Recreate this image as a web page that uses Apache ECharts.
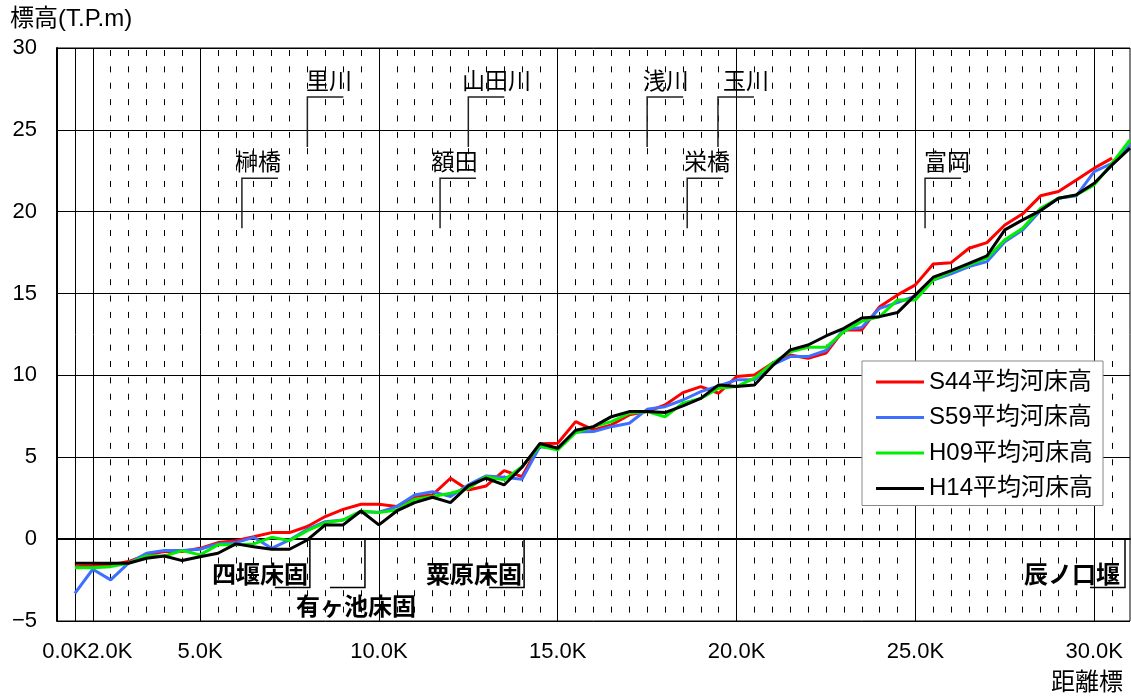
<!DOCTYPE html>
<html>
<head>
<meta charset="utf-8">
<script src="https://cdn.jsdelivr.net/npm/echarts@6/dist/echarts.min.js"></script>
<style>
html, body { margin: 0; padding: 0; background: #fff; }
#chart { width: 1131px; height: 697px; }
</style>
</head>
<body>
<div id="chart"></div>
<script>
const FONT = "'Liberation Sans', 'Noto Sans CJK JP', sans-serif";

// distance markers (first slot is an empty category before 0.0K)
const distances = ['', '0.0K', '2.0K', '2.5K', '3.0K', '3.5K', '4.0K', '4.5K', '5.0K', '5.5K',
    '6.0K', '6.5K', '7.0K', '7.5K', '8.0K', '8.5K', '9.0K', '9.5K', '10.0K', '10.5K',
    '11.0K', '11.5K', '12.0K', '12.5K', '13.0K', '13.5K', '14.0K', '14.5K', '15.0K', '15.5K',
    '16.0K', '16.5K', '17.0K', '17.5K', '18.0K', '18.5K', '19.0K', '19.5K', '20.0K', '20.5K',
    '21.0K', '21.5K', '22.0K', '22.5K', '23.0K', '23.5K', '24.0K', '24.5K', '25.0K', '25.5K',
    '26.0K', '26.5K', '27.0K', '27.5K', '28.0K', '28.5K', '29.0K', '29.5K', '30.0K', '30.5K', '31.0K'];
const tickLabels = ['0.0K', '2.0K', '5.0K', '10.0K', '15.0K', '20.0K', '25.0K', '30.0K'];

const seriesNames = ['S44平均河床高', 'S59平均河床高', 'H09平均河床高', 'H14平均河床高'];
const seriesColors = ['#ff0000', '#3f6fff', '#00ee00', '#000000'];

const s44 = [null, -1.68, -1.64, -1.58, -1.37, -0.96, -0.76, -0.76, -0.56, -0.21, -0.09,
    0.15, 0.40, 0.40, 0.77, 1.38, 1.82, 2.13, 2.13, 1.99, 2.60,
    2.70, 3.72, 3.00, 3.25, 4.19, 3.82, 5.82, 5.86, 7.18, 6.67,
    6.98, 7.59, 7.79, 8.20, 8.95, 9.32, 8.91, 9.93, 10.03, 10.74,
    11.25, 11.05, 11.36, 12.78, 12.78, 14.20, 14.92, 15.53, 16.81, 16.89,
    17.77, 18.11, 19.19, 19.87, 20.97, 21.23, 21.94, 22.66, 23.27, null];
const s59 = [null, -3.31, -1.84, -2.49, -1.47, -0.86, -0.70, -0.70, -0.62, -0.29, -0.21,
    0.11, -0.56, -0.05, 0.60, 1.07, 1.17, 1.68, 1.64, 1.99, 2.70,
    2.90, 2.60, 3.31, 3.86, 3.78, 3.66, 5.65, 5.55, 6.55, 6.57,
    6.87, 7.08, 7.93, 8.09, 8.50, 9.01, 9.36, 9.73, 9.73, 10.64,
    11.15, 11.15, 11.52, 12.80, 12.93, 14.10, 14.45, 14.86, 15.83, 16.20,
    16.65, 16.95, 18.17, 18.89, 20.07, 20.82, 20.97, 22.45, 22.96, 24.08];
const h09 = [null, -1.74, -1.74, -1.68, -1.47, -1.03, -1.03, -0.70, -0.96, -0.35, -0.35,
    -0.29, 0.11, -0.09, 0.52, 1.00, 1.17, 1.72, 1.62, 1.78, 2.43,
    2.60, 2.80, 3.10, 3.82, 3.62, 4.43, 5.69, 5.45, 6.50, 6.87,
    7.18, 7.69, 7.79, 7.48, 8.30, 8.60, 9.22, 9.32, 9.83, 10.74,
    11.45, 11.72, 11.72, 12.68, 13.30, 13.59, 14.61, 14.61, 15.83, 16.34,
    16.75, 17.16, 18.28, 18.99, 20.21, 20.82, 21.03, 21.64, 22.96, 24.39];
const h14 = [null, -1.47, -1.47, -1.47, -1.47, -1.17, -1.03, -1.31, -1.07, -0.86, -0.29,
    -0.46, -0.62, -0.62, -0.05, 0.87, 0.87, 1.72, 0.87, 1.72, 2.23,
    2.56, 2.23, 3.25, 3.72, 3.31, 4.39, 5.84, 5.55, 6.65, 6.87,
    7.48, 7.79, 7.79, 7.73, 8.14, 8.60, 9.42, 9.32, 9.42, 10.58,
    11.56, 11.86, 12.41, 12.88, 13.51, 13.59, 13.84, 14.92, 16.00, 16.40,
    16.85, 17.30, 18.89, 19.50, 20.07, 20.82, 21.03, 21.74, 22.86, 23.88];

// tributaries / bridges (distance in km, label level in T.P.m)
const placeNames = ['榊橋', '里川', '額田', '山田川', '浅川', '栄橋', '玉川', '富岡'];
const placeKm = [6.17, 8.0, 11.71, 12.5, 17.5, 18.62, 19.48, 25.27];
const placeTextKm = [5.98, 7.96, 11.48, 12.32, 17.38, 18.53, 19.62, 25.24];
const placeLevel = [22.05, 27.0, 22.05, 27.0, 27.0, 22.05, 27.0, 22.05];

// bed sills / weirs
const weirNames = ['四堰床固', '有ヶ池床固', '粟原床固', '辰ノ口堰'];
const weirKm = [8.07, 9.61, 14.06, 30.86];
const weirTextKm = [8.02, 7.68, 14.0, 30.72];
const weirTextLevel = [-2.25, -4.2, -2.25, -2.25];
const weirAlign = ['right', 'left', 'right', 'right'];
const weirLevel = -2.95;

// km -> position on the category axis (0.0K sits at 1, 2.0K at 2, then every 0.5K)
function kmToIdx(km){
    return km >= 2 ? 2 + (km - 2) / 0.5 : 1 + km / 2;
}

const chart = echarts.init(document.getElementById('chart'));

const lineSeries = [s44, s59, h09, h14].map((vals, i) => ({
    name: seriesNames[i],
    type: 'line',
    data: vals,
    symbol: 'none',
    showSymbol: false,
    connectNulls: false,
    z: 3 + i,
    lineStyle: {color: seriesColors[i], width: 3},
    itemStyle: {color: seriesColors[i]}
}));

const labelStyle = {fontSize: 22, color: '#000', margin: 20, fontFamily: FONT};

const option = {
    animation: false,
    textStyle: {fontFamily: FONT},
    grid: {left: 57, right: 1, top: 48, bottom: 76, show: true, borderColor: '#000', borderWidth: 1,
        outerBoundsMode: 'none'},
    legend: {
        orient: 'vertical', left: 862, top: 361,
        padding: [9, 10, 5, 14], itemGap: 11.5,
        itemWidth: 48, itemHeight: 3, icon: 'rect',
        backgroundColor: '#fff', borderColor: '#888', borderWidth: 1,
        z: 20,
        textStyle: {fontSize: 24, color: '#000', fontFamily: FONT},
        data: seriesNames
    },
    graphic: [
        {type: 'text', left: 10, top: 7, style: {text: '標高(T.P.m)', fontSize: 24, fontFamily: FONT, fill: '#000'}},
        {type: 'text', right: 8, bottom: 2, style: {text: '距離標', fontSize: 24, fontFamily: FONT, fill: '#000'}}
    ],
    xAxis: [
        {
            // solid grid at labelled markers, labels from 2.0K on
            type: 'category', data: distances, boundaryGap: false,
            axisLine: {lineStyle: {color: '#000', width: 2}},
            axisTick: {show: false},
            axisLabel: Object.assign({}, labelStyle, {
                interval: (i, v) => v !== '0.0K' && tickLabels.includes(v),
                formatter: v => v === '2.0K' ? '{r|2.0K}' : v,
                rich: {r: {fontSize: 22, color: '#000', fontFamily: FONT, padding: [0, 0, 0, 34]}}
            }),
            splitLine: {show: true, interval: (i, v) => tickLabels.includes(v),
                lineStyle: {color: '#000', width: 1}}
        },
        {
            // dashed grid at every other marker, plus the 0.0K label
            type: 'category', data: distances, boundaryGap: false, position: 'bottom',
            axisLine: {show: false}, axisTick: {show: false},
            axisLabel: Object.assign({}, labelStyle, {
                interval: (i, v) => v === '0.0K',
                formatter: v => '{l|' + v + '}',
                rich: {l: {fontSize: 22, color: '#000', fontFamily: FONT, padding: [0, 20, 0, 0]}}
            }),
            splitLine: {show: true,
                interval: (i, v) => i > 0 && i < distances.length - 1 && !tickLabels.includes(v),
                lineStyle: {color: '#000', width: 1, type: [6, 10.37], dashOffset: 14.37}}
        },
        {type: 'value', min: 0, max: distances.length - 1, show: false}
    ],
    yAxis: {
        type: 'value', min: -5, max: 30, interval: 5,
        axisLine: {show: true, lineStyle: {color: '#000', width: 2}},
        axisTick: {show: false},
        axisLabel: Object.assign({}, labelStyle, {formatter: v => String(v).replace('-', '\u2212')}),
        splitLine: {lineStyle: {color: '#000', width: 1}}
    },
    series: lineSeries.concat([
        {
            type: 'custom', name: 'places', xAxisIndex: 2, z: 8, silent: true, clip: false,
            encode: {x: 0, y: 1},
            data: placeKm.map((km, i) => [kmToIdx(km), placeLevel[i], kmToIdx(placeTextKm[i])]),
            renderItem: (params, api) => {
                const p = api.coord([api.value(0), api.value(1)]);
                const t = api.coord([api.value(2), api.value(1)]);
                return {type: 'group', children: [
                    {type: 'polyline', shape: {points: [[p[0] + 36, p[1]], [p[0], p[1]], [p[0], p[1] + 50]]},
                        style: {stroke: '#222', lineWidth: 1.5, fill: 'none'}},
                    {type: 'text', x: t[0], y: p[1] - 14,
                        style: {text: placeNames[params.dataIndex], fontSize: 23, fontFamily: FONT,
                            fill: '#000', align: 'left', verticalAlign: 'middle'}}
                ]};
            }
        },
        {
            type: 'custom', name: 'weirs', xAxisIndex: 2, z: 8, silent: true, clip: false,
            encode: {x: 0, y: 1},
            data: weirKm.map((km, i) => [kmToIdx(km), weirLevel, kmToIdx(weirTextKm[i]), weirTextLevel[i]]),
            renderItem: (params, api) => {
                const top = api.coord([api.value(0), 0]);
                const p = api.coord([api.value(0), api.value(1)]);
                const t = api.coord([api.value(2), api.value(3)]);
                return {type: 'group', children: [
                    {type: 'polyline', shape: {points: [[top[0], top[1]], [p[0], p[1]], [p[0] - 35, p[1]]]},
                        style: {stroke: '#000', lineWidth: 1.5, fill: 'none'}},
                    {type: 'text', x: t[0], y: t[1],
                        style: {text: weirNames[params.dataIndex], fontSize: 24, fontWeight: 'bold',
                            fontFamily: FONT, fill: '#000', align: weirAlign[params.dataIndex],
                            verticalAlign: 'middle'}}
                ]};
            }
        }
    ])
};

chart.setOption(option);
</script>
</body>
</html>
